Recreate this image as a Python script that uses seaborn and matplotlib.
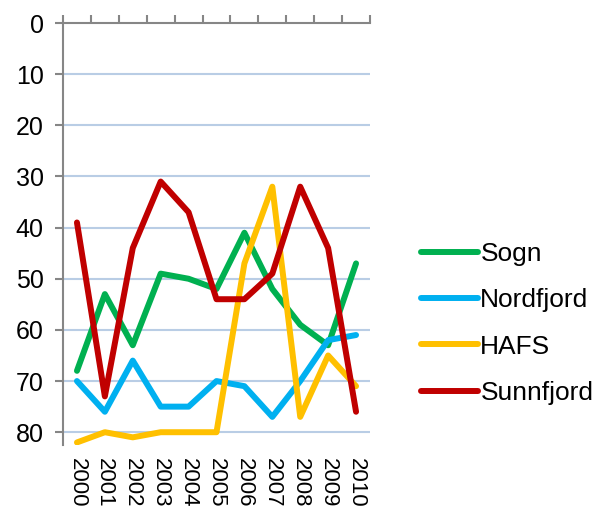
import pandas as pd
import numpy as np
import matplotlib.pyplot as plt
import seaborn as sns

years = ['2000', '2001', '2002', '2003', '2004', '2005', '2006', '2007', '2008', '2009', '2010']
sogn = [68, 53, 63, 49, 50, 52, 41, 52, 59, 63, 47]
nordfjord = [70, 76, 66, 75, 75, 70, 71, 77, 70, 62, 61]
hafs = [82, 80, 81, 80, 80, 80, 47, 32, 77, 65, 71]
sunnfjord = [39, 73, 44, 31, 37, 54, 54, 49, 32, 44, 76]
series_names = ['Sogn', 'Nordfjord', 'HAFS', 'Sunnfjord']
colors = ['#00B050', '#00B0F0', '#FFC000', '#C00000']

rows = []
for name, vals in zip(series_names, [sogn, nordfjord, hafs, sunnfjord]):
    for i, v in enumerate(vals):
        rows.append({'pos': i, 'rank': v, 'region': name})
df = pd.DataFrame(rows)

sns.set_style("white")
plt.rcParams['font.family'] = ['Liberation Sans', 'DejaVu Sans']
plt.rcParams['text.color'] = 'black'
plt.rcParams['xtick.labelcolor'] = 'black'
plt.rcParams['ytick.labelcolor'] = 'black'

fig = plt.figure(figsize=(5.96, 5.11), dpi=100)
ax = fig.add_axes([63/596, 1 - 445/511, (370 - 63)/596, (445 - 23)/511])

ax.grid(False)
for y in range(10, 81, 10):
    ax.axhline(y, color='#B9CDE5', linewidth=1.5, zorder=0)

sns.lineplot(data=df, x='pos', y='rank', hue='region', hue_order=series_names,
             palette=colors, linewidth=4.3, ax=ax, legend=True)

ax.set_xlim(-0.5, 10.5)
ax.set_ylim(82.5, 0)
ax.set_yticks(range(0, 81, 10))
ax.set_xticks(range(11))
ax.set_xticklabels(years, rotation=-90, fontsize=16)
ax.set_xticks(np.arange(-0.5, 11, 1), minor=True)
ax.tick_params(axis='x', which='major', bottom=True, top=False, length=0, pad=9)
ax.tick_params(axis='x', which='minor', top=True, bottom=False, direction='out',
               length=6, width=1.5, color='#868686')
ax.tick_params(axis='y', which='major', left=True, direction='out', length=6,
               width=1.5, color='#868686', labelsize=18, pad=8)
ax.set_xlabel('')
ax.set_ylabel('')

for s in ['right', 'bottom']:
    ax.spines[s].set_visible(False)
for s in ['left', 'top']:
    ax.spines[s].set_color('#868686')
    ax.spines[s].set_linewidth(1.5)

handles, labels = ax.get_legend_handles_labels()
ax.legend(handles, labels, loc='center left', frameon=False, fontsize=19,
          bbox_to_anchor=(421/596, 1 - 323.5/511), bbox_transform=fig.transFigure,
          borderaxespad=0, borderpad=0, handlelength=2.15, handletextpad=0.1,
          labelspacing=0.85)

fig.savefig('out.png', dpi=100)
